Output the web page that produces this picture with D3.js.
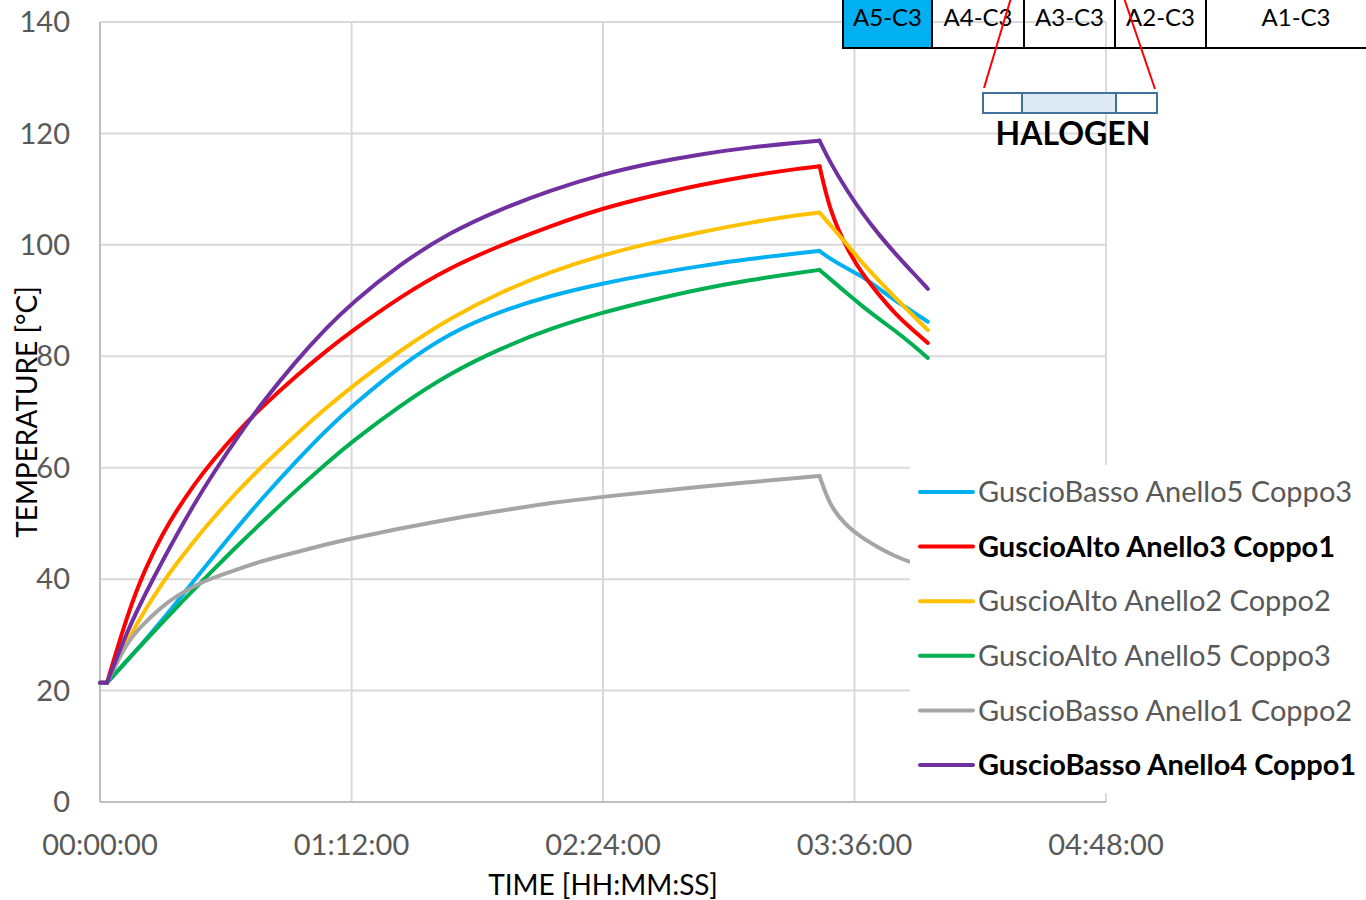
<!DOCTYPE html>
<html>
<head>
<meta charset="utf-8">
<script src="https://d3js.org/d3.v7.min.js"></script>
<style>
  body { margin: 0; background: #fff; }
  svg { font-family: Lato, "Open Sans", sans-serif; }
  .grid line { stroke: #d9d9d9; stroke-width: 2px; }
  .tick-label { fill: #595959; font-size: 29px; }
  .series { fill: none; stroke-width: 4px; stroke-linejoin: round; stroke-linecap: round; }
</style>
</head>
<body>
<svg width="1366" height="900"></svg>
<script>
// time in minutes from start
var timeMin = [0, 2, 8, 13, 18, 22, 27, 32, 40, 46, 56, 65, 72, 86, 100, 115, 129, 144, 158, 172, 186, 200, 206, 209, 214, 218, 223, 228, 232, 237];
var peakIndex = 22;

var blueBasso5C3   = [21.4, 21.4, 25.5, 29.1, 32.8, 35.9, 39.8, 43.7, 49.8, 54.2, 61.1, 66.9, 71.0, 78.3, 84.2, 88.2, 90.9, 93.1, 94.8, 96.2, 97.5, 98.5, 98.9, 97.5, 95.7, 94.4, 92.2, 89.8, 88.3, 86.2];
var redAlto3C1     = [21.4, 21.4, 34.0, 42.0, 48.2, 52.4, 57.0, 61.1, 66.9, 70.7, 76.4, 81.1, 84.5, 90.7, 95.9, 100.0, 103.4, 106.6, 108.8, 110.8, 112.4, 113.7, 114.1, 105.9, 99.1, 95.0, 91.0, 87.4, 85.1, 82.4];
var yellowAlto2C2  = [21.4, 21.4, 29.2, 34.6, 39.4, 42.9, 46.9, 50.7, 56.2, 60.0, 65.9, 70.9, 74.5, 81.1, 86.8, 91.6, 95.2, 98.2, 100.4, 102.3, 104.0, 105.4, 105.8, 103.6, 100.0, 96.9, 93.6, 90.3, 87.8, 84.7];
var greenAlto5C3   = [21.4, 21.4, 25.6, 29.0, 32.3, 35.0, 38.2, 41.4, 46.4, 50.0, 55.9, 60.9, 64.6, 71.2, 76.9, 81.5, 85.0, 87.9, 90.1, 92.1, 93.7, 95.0, 95.5, 93.9, 91.2, 89.1, 86.7, 84.4, 82.4, 79.7];
var grayBasso1C2   = [21.4, 21.4, 29.1, 32.3, 35.2, 37.0, 38.8, 40.2, 41.9, 43.2, 44.8, 46.3, 47.3, 49.1, 50.8, 52.3, 53.7, 54.8, 55.7, 56.6, 57.4, 58.2, 58.5, 53.0, 49.4, 47.5, 45.6, 44.0, 43.1, 42.0];
var purpleBasso4C1 = [21.4, 21.4, 31.0, 37.4, 43.4, 48.0, 53.5, 58.6, 66.1, 71.3, 79.1, 85.2, 89.5, 96.6, 102.2, 106.5, 109.8, 112.7, 114.7, 116.3, 117.5, 118.4, 118.7, 114.8, 109.6, 105.9, 101.8, 98.2, 95.5, 92.1];

var seriesNames = ["GuscioBasso Anello5 Coppo3", "GuscioAlto Anello3 Coppo1", "GuscioAlto Anello2 Coppo2",
                   "GuscioAlto Anello5 Coppo3", "GuscioBasso Anello1 Coppo2", "GuscioBasso Anello4 Coppo1"];
var seriesColors = ["#00b0f0", "#ff0000", "#ffc000", "#00b050", "#a5a5a5", "#7030a0"];
var seriesBold = [false, true, false, false, false, true];
var seriesValues = [blueBasso5C3, redAlto3C1, yellowAlto2C2, greenAlto5C3, grayBasso1C2, purpleBasso4C1];

var yTicks = [0, 20, 40, 60, 80, 100, 120, 140];
var xTicks = [0, 72, 144, 216, 288];

var cells = ["A5-C3", "A4-C3", "A3-C3", "A2-C3", "A1-C3"];
var cellEdges = [843, 932, 1024, 1115, 1206, 1400];

var svg = d3.select("svg");
var x = d3.scaleLinear().domain([0, 288]).range([100, 1106]);
var y = d3.scaleLinear().domain([0, 140]).range([802, 22]);

function hms(m) {
  var h = Math.floor(m / 60), mm = m % 60;
  return d3.format("02d")(h) + ":" + d3.format("02d")(mm) + ":00";
}

// gridlines
var grid = svg.append("g").attr("class", "grid");
grid.selectAll("line.h").data(yTicks.slice(1)).enter().append("line")
  .attr("x1", x(0)).attr("x2", x(288))
  .attr("y1", function(d) { return y(d); }).attr("y2", function(d) { return y(d); });
grid.selectAll("line.v").data(xTicks.slice(1)).enter().append("line")
  .attr("x1", function(d) { return x(d); }).attr("x2", function(d) { return x(d); })
  .attr("y1", y(140)).attr("y2", y(0));

// axis lines
svg.append("line").attr("x1", x(0)).attr("x2", x(0)).attr("y1", y(140)).attr("y2", y(0))
  .attr("stroke", "#bfbfbf").attr("stroke-width", 2);
svg.append("line").attr("x1", x(0)).attr("x2", x(288)).attr("y1", y(0)).attr("y2", y(0))
  .attr("stroke", "#bfbfbf").attr("stroke-width", 2);

// tick labels
svg.selectAll("text.ytick").data(yTicks).enter().append("text")
  .attr("class", "tick-label")
  .attr("x", 70).attr("y", function(d) { return y(d); })
  .attr("dy", "0.35em").attr("text-anchor", "end")
  .text(function(d) { return d; });
svg.selectAll("text.xtick").data(xTicks).enter().append("text")
  .attr("class", "tick-label")
  .attr("x", function(d) { return x(d); }).attr("y", 845)
  .attr("dy", "0.35em").attr("text-anchor", "middle")
  .text(hms);

svg.append("text").attr("x", 603).attr("y", 885).attr("dy", "0.35em")
  .attr("text-anchor", "middle").attr("font-size", 28).attr("fill", "#000")
  .text("TIME [HH:MM:SS]");
svg.append("text").attr("transform", "translate(27,412) rotate(-90)").attr("dy", "0.35em")
  .attr("text-anchor", "middle").attr("font-size", 28).attr("fill", "#000")
  .text("TEMPERATURE [°C]");

// series: heating and cooling drawn as separate pieces so the corners stay sharp
var smooth = d3.line()
  .x(function(d) { return x(d[0]); })
  .y(function(d) { return y(d[1]); })
  .curve(d3.curveBasis);
var pieces = [[0, 1], [1, peakIndex], [peakIndex, timeMin.length - 1]];

seriesValues.forEach(function(vals, i) {
  var pts = timeMin.map(function(t, k) { return [t, vals[k]]; });
  pieces.forEach(function(p) {
    svg.append("path").attr("class", "series")
      .attr("stroke", seriesColors[i])
      .attr("d", smooth(pts.slice(p[0], p[1] + 1)));
  });
});

// legend
var legend = svg.append("g");
legend.append("rect").attr("x", 910).attr("y", 465).attr("width", 456).attr("height", 328).attr("fill", "#fff");
seriesNames.forEach(function(name, i) {
  var ly = 492 + i * 54.6;
  legend.append("line").attr("x1", 920).attr("x2", 973).attr("y1", ly).attr("y2", ly)
    .attr("stroke", seriesColors[i]).attr("stroke-width", 4).attr("stroke-linecap", "round");
  legend.append("text").attr("x", 978).attr("y", ly).attr("dy", "0.35em")
    .attr("font-size", 29)
    .attr("font-weight", seriesBold[i] ? "bold" : "normal")
    .attr("fill", seriesBold[i] ? "#000" : "#595959")
    .text(name);
});

// sample layout sketch, top right
var sketch = svg.append("g");
cells.forEach(function(c, i) {
  sketch.append("rect").attr("x", cellEdges[i]).attr("y", -10)
    .attr("width", cellEdges[i + 1] - cellEdges[i]).attr("height", 58)
    .attr("fill", i === 0 ? "#00b0f0" : "none").attr("stroke", "#000").attr("stroke-width", 2);
  sketch.append("text").attr("x", (cellEdges[i] + Math.min(cellEdges[i + 1], 1386)) / 2).attr("y", 18)
    .attr("dy", "0.35em").attr("text-anchor", "middle").attr("font-size", 24).attr("fill", "#000")
    .text(c);
});
sketch.append("line").attr("x1", 1011).attr("y1", -2).attr("x2", 984).attr("y2", 88)
  .attr("stroke", "#ff0000").attr("stroke-width", 2);
sketch.append("line").attr("x1", 1124).attr("y1", -2).attr("x2", 1155).attr("y2", 89)
  .attr("stroke", "#ff0000").attr("stroke-width", 2);
var hal = [983, 1022, 1116, 1157];
sketch.append("rect").attr("x", hal[1]).attr("y", 93).attr("width", hal[2] - hal[1]).attr("height", 20)
  .attr("fill", "#deebf7");
sketch.append("rect").attr("x", hal[0]).attr("y", 93).attr("width", hal[3] - hal[0]).attr("height", 20)
  .attr("fill", "none").attr("stroke", "#41719c").attr("stroke-width", 2);
[hal[1], hal[2]].forEach(function(d) {
  sketch.append("line").attr("x1", d).attr("x2", d).attr("y1", 93).attr("y2", 113)
    .attr("stroke", "#41719c").attr("stroke-width", 2);
});
sketch.append("text").attr("x", 1073).attr("y", 134).attr("dy", "0.35em")
  .attr("text-anchor", "middle").attr("font-size", 32).attr("font-weight", "bold").attr("fill", "#000")
  .text("HALOGEN");
</script>
</body>
</html>
